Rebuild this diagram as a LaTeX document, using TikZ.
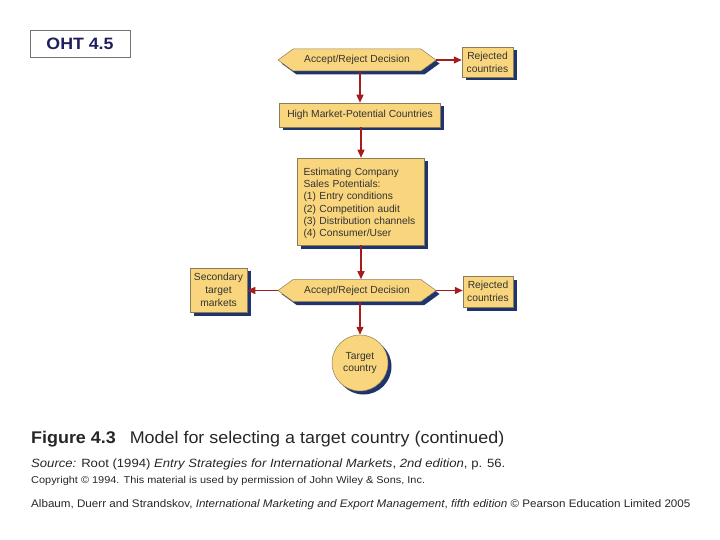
\documentclass[tikz,border=0pt]{standalone}
\usepackage{fontspec}
\setmainfont{Liberation Sans}
\usepackage{graphicx}
\usepackage{tikz}
\usetikzlibrary{positioning, shapes.symbols, shadows}
\usetikzlibrary{arrows.meta}
\definecolor{boxfill}{RGB}{249,214,125}
\definecolor{boxline}{RGB}{140,125,90}
\definecolor{shadowblue}{RGB}{32,52,108}
\definecolor{arrowred}{RGB}{165,28,30}
\definecolor{ohtblue}{RGB}{30,30,95}

\begin{document}
\begin{tikzpicture}[x=1bp,y=-1bp]
            \tikzset{yellowbox/.style = {draw=boxline, line width=0.5bp, fill=boxfill, inner sep=0pt,
                drop shadow={shadow xshift=3.5bp, shadow yshift=-3.5bp, fill=shadowblue, opacity=1},
                font=\fontsize{10.3}{12.8}\selectfont, text=black!80, align=center}}
            \tikzset{decision/.style = {yellowbox, signal, signal to=west and east, signal pointer angle=72,
                minimum width=158bp, minimum height=22bp}}
            \tikzset{flow/.style = {-{Triangle[length=8bp,width=7bp]}, arrowred, line width=1.4bp}}
            \tikzset{caption/.style = {anchor=base west, inner sep=0pt, text=black!85}}

            \useasboundingbox (0,0) rectangle (720,540);

            \node[draw=black!55, line width=0.6bp, minimum width=100bp, minimum height=27bp,
                font=\fontsize{16.5}{18}\selectfont\bfseries, text=ohtblue] (oht) at (80,43.5) {\scalebox{1.08}[1]{OHT 4.5}};

            \node[decision] (decision1) at (357,60) {Accept/Reject Decision};
            \node[yellowbox, minimum width=51bp, minimum height=30bp] (rejected1) at (487.5,62) {Rejected\\countries};
            \node[yellowbox, minimum width=161bp, minimum height=24bp] (high) at (360,115) {High Market-Potential Countries};
            \node[yellowbox, minimum width=127bp, minimum height=87bp, text width=115bp, align=left,
                font=\fontsize{10.3}{12.4}\selectfont] (estimate) at (361,201.5)
                {\rule{0pt}{11bp}Estimating Company\\Sales Potentials:\\(1)~Entry conditions\\(2)~Competition audit\\(3)~Distribution channels\\(4)~Consumer/User};
            \node[decision] (decision2) at (357,290.5) {Accept/Reject Decision};
            \node[yellowbox, minimum width=57bp, minimum height=44bp] (secondary) at (218.5,290) {Secondary\\target\\markets};
            \node[yellowbox, minimum width=50bp, minimum height=31bp] (rejected2) at (488,291.5) {Rejected\\countries};
            \node[yellowbox, circle, minimum size=56bp] (target) at (360,363) {Target\\country};

            % arrows
            \draw[flow] (decision1.south -| high.north) -- (high.north);
            \draw[flow] (decision1.east) -- (decision1.east -| rejected1.west);
            \draw[flow] (high.south) -- (high.south -| estimate.north) -- (estimate.north);
            \draw[flow] (estimate.south) -- (estimate.south |- decision2.north);
            \draw[flow] (decision2.east) -- (decision2.east -| rejected2.west);
            \draw[flow] (decision2.west) -- (decision2.west -| secondary.east);
            \draw[flow] (decision2.south -| target.north) -- (target.north);

            % caption
            \node[caption, font=\fontsize{17}{19}\selectfont] (figcap) at (31,443)
                {\scalebox{1.058}[1]{\textbf{Figure 4.3}\hspace{0.5em} Model for selecting a target country (continued)}};
            \node[caption, font=\fontsize{12}{14}\selectfont] (source) at (31,467)
                {\scalebox{1.097}[1]{\textit{Source:} Root (1994) \textit{Entry Strategies for International Markets}, \textit{2nd edition}, p. 56.}};
            \node[caption, font=\fontsize{10}{12}\selectfont] (copyright) at (31,483)
                {\scalebox{1.098}[1]{Copyright © 1994. This material is used by permission of John Wiley \& Sons, Inc.}};
            \node[caption, font=\fontsize{11}{13}\selectfont] (albaum) at (31,507)
                {\scalebox{1.061}[1]{Albaum, Duerr and Strandskov, \textit{International Marketing and Export Management}, \textit{fifth edition} © Pearson Education Limited 2005}};
        \end{tikzpicture}
\end{document}
